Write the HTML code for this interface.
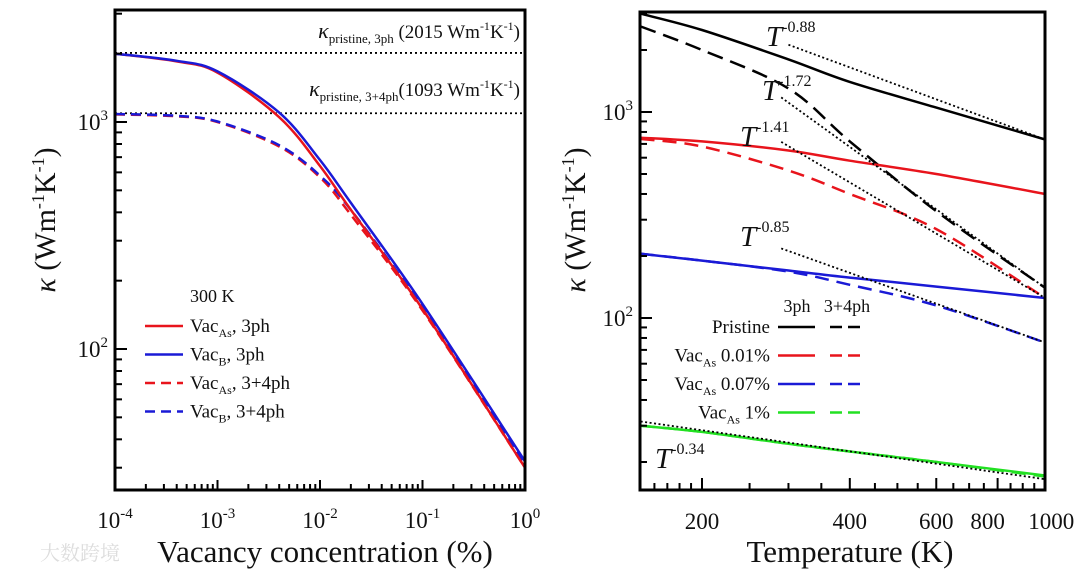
<!DOCTYPE html>
<html><head><meta charset="utf-8"><style>
body{margin:0;background:#fff}
svg{display:block;font-family:"Liberation Serif","Noto Serif CJK SC",serif}
</style></head><body>
<svg id="c" width="1080" height="576" viewBox="0 0 1080 576"></svg>
<script>
// Left panel data
const leftX = [1e-4, 4e-4, 1e-3, 4e-3, 1e-2, 2e-2, 1e-1, 1];
const vacAs3 = [2000, 1850, 1650, 1050, 640, 410, 150, 30];
const vacB3 = [2000, 1860, 1670, 1100, 680, 440, 158, 32];
const vacAs34 = [1080, 1060, 1000, 780, 570, 390, 148, 30];
const vacB34 = [1085, 1065, 1005, 790, 580, 410, 152, 31];
const leftRefs = [2015, 1093];
const leftXTicks = ["-4","-3","-2","-1","0"];
// Right panel data
const rightT = [150, 200, 300, 400, 600, 1000];
const pris3 = [3000, 2500, 1800, 1400, 1050, 735];
const pris34 = [2600, 2000, 1300, 720, 330, 140];
const v001_3 = [750, 720, 650, 580, 500, 400];
const v001_34 = [740, 680, 520, 400, 270, 125];
const v007_3 = [205, 190, 170, 157, 142, 125];
const v007_34 = [205, 190, 168, 145, 115, 76];
const v1_3 = [30, 28, 24.5, 22.5, 20, 17.2];
const v1_34 = [30, 28, 24.5, 22.5, 20, 17.0];
const fitExp = [-0.88, -1.72, -1.41, -0.85, -0.34];
const fitStart = [300, 290, 290, 290, 150];
const fitEnd = [735, 140, 125, 76, 16.5];
const rightXTicks = [200, 400, 600, 800, 1000];

const svg = document.getElementById('c');
const NS = 'http://www.w3.org/2000/svg';
function mk(tag, attrs, parent) {
  const e = document.createElementNS(NS, tag);
  for (const k in attrs) e.setAttribute(k, attrs[k]);
  (parent || svg).appendChild(e);
  return e;
}
const L = {x0:115, x1:525, y0:10, y1:490};
const lx = v => L.x0 + (Math.log10(v) + 4) / 4 * (L.x1 - L.x0);
const ly = v => 122 - (Math.log10(v) - 3) * 227;
const R = {x0:640, x1:1045, y0:12, y1:490};
const rx = v => 702 + (Math.log10(v) - Math.log10(200)) * 491;
const ry = v => 112 - (Math.log10(v) - 3) * 206;

function smooth(pts) {
  let d = 'M' + pts[0][0].toFixed(1) + ',' + pts[0][1].toFixed(1);
  for (let i = 0; i < pts.length - 1; i++) {
    const p0 = pts[i - 1] || pts[i], p1 = pts[i], p2 = pts[i + 1], p3 = pts[i + 2] || p2;
    const c1x = p1[0] + (p2[0] - p0[0]) / 6, c1y = p1[1] + (p2[1] - p0[1]) / 6;
    const c2x = p2[0] - (p3[0] - p1[0]) / 6, c2y = p2[1] - (p3[1] - p1[1]) / 6;
    d += 'C' + c1x.toFixed(1) + ',' + c1y.toFixed(1) + ' ' + c2x.toFixed(1) + ',' + c2y.toFixed(1) + ' ' + p2[0].toFixed(1) + ',' + p2[1].toFixed(1);
  }
  return d;
}
function poly(xs, ys, fx, fy, color, dash, name, clip) {
  const pts = xs.map((x, i) => [fx(x), fy(ys[i])]);
  const p = mk('path', {d: smooth(pts), fill: 'none', stroke: color, 'stroke-width': 2.5, 'stroke-dasharray': dash || 'none', 'clip-path': clip});
  
  
  return p;
}
const defs = mk('defs', {});
const c1 = mk('clipPath', {id: 'cl'}, defs); mk('rect', {x: L.x0, y: L.y0, width: L.x1 - L.x0, height: L.y1 - L.y0}, c1);
const c2 = mk('clipPath', {id: 'cr'}, defs); mk('rect', {x: R.x0, y: R.y0, width: R.x1 - R.x0, height: R.y1 - R.y0}, c2);

function text(x, y, html, size, anchor, name) {
  const t = mk('text', {x: x, y: y, 'font-size': size, 'text-anchor': anchor || 'start', fill: '#111'});
  t.innerHTML = html;
  
  
  return t;
}

// ---- Left panel ----
leftRefs.forEach((v, i) => {
  const l = mk('line', {x1: L.x0, x2: L.x1, y1: ly(v), y2: ly(v), stroke: '#000', 'stroke-width': 1.8, 'stroke-dasharray': '2,3'});
  
  
});
text(520, 38, '<tspan font-style="italic" font-size="22">κ</tspan><tspan font-size="13" dy="5">pristine, 3ph</tspan><tspan dy="-5"> (2015 Wm</tspan><tspan font-size="12" dy="-8">-1</tspan><tspan dy="8">K</tspan><tspan font-size="12" dy="-8">-1</tspan><tspan dy="8">)</tspan>', 19, 'end', 'label-pristine-3ph');
text(520, 96, '<tspan font-style="italic" font-size="22">κ</tspan><tspan font-size="13" dy="5">pristine, 3+4ph</tspan><tspan dy="-5">(1093 Wm</tspan><tspan font-size="12" dy="-8">-1</tspan><tspan dy="8">K</tspan><tspan font-size="12" dy="-8">-1</tspan><tspan dy="8">)</tspan>', 19, 'end', 'label-pristine-34ph');
poly(leftX, vacAs34, lx, ly, '#e8141c', '10,6', 'line-vacas-34ph', 'url(#cl)');
poly(leftX, vacB34, lx, ly, '#1a1ad6', '10,6', 'line-vacb-34ph', 'url(#cl)');
poly(leftX, vacAs3, lx, ly, '#e8141c', null, 'line-vacas-3ph', 'url(#cl)');
poly(leftX, vacB3, lx, ly, '#1a1ad6', null, 'line-vacb-3ph', 'url(#cl)');
for (let e = -4; e < 0; e++) for (let m = 1; m < 10; m++) {
  const x = lx(m * Math.pow(10, e)); const len = m === 1 ? 10 : 6;
  mk('line', {x1: x, x2: x, y1: L.y1, y2: L.y1 - len, stroke: '#000', 'stroke-width': 2});
}
leftXTicks.forEach((e, i) => text(lx(Math.pow(10, +e)), 528, '10<tspan font-size="15" dy="-10">' + e + '</tspan>', 23, 'middle', 'x-tick-left-' + i));
[20, 30, 40, 50, 60, 70, 80, 90, 100, 200, 300, 400, 500, 600, 700, 800, 900, 1000, 2000, 3000].forEach(v => {
  const y = ly(v); if (y < L.y0 || y > L.y1) return;
  const len = (v === 100 || v === 1000) ? 12 : 7;
  mk('line', {x1: L.x0, x2: L.x0 + len, y1: y, y2: y, stroke: '#000', 'stroke-width': 2});
});
text(108, ly(1000) + 8, '10<tspan font-size="15" dy="-10">3</tspan>', 23, 'end', 'y-tick-left-1000');
text(108, ly(100) + 8, '10<tspan font-size="15" dy="-10">2</tspan>', 23, 'end', 'y-tick-left-100');
const lf = mk('rect', {x: L.x0, y: L.y0, width: L.x1 - L.x0, height: L.y1 - L.y0, fill: 'none', stroke: '#000', 'stroke-width': 3});
 
const yt1 = text(0, 0, '<tspan font-style="italic">κ</tspan> (Wm<tspan font-size="18" dy="-11">-1</tspan><tspan dy="11">K</tspan><tspan font-size="18" dy="-11">-1</tspan><tspan dy="11">)</tspan>', 30, 'middle', 'y-axis-title-left');
yt1.setAttribute('transform', 'translate(55,220) rotate(-90)');
text(325, 562, 'Vacancy concentration (%)', 31, 'middle', 'x-axis-title-left');
text(190, 302, '300 K', 18, 'start', 'legend-title-300k');
const lleg = [['#e8141c', null, 'Vac<tspan font-size="12" dy="5">As</tspan><tspan dy="-5">, 3ph</tspan>'], ['#1a1ad6', null, 'Vac<tspan font-size="12" dy="5">B</tspan><tspan dy="-5">, 3ph</tspan>'], ['#e8141c', '10,6', 'Vac<tspan font-size="12" dy="5">As</tspan><tspan dy="-5">, 3+4ph</tspan>'], ['#1a1ad6', '10,6', 'Vac<tspan font-size="12" dy="5">B</tspan><tspan dy="-5">, 3+4ph</tspan>']];
lleg.forEach((r, i) => {
  const y = 326 + i * 28.5;
  mk('line', {x1: 145, x2: 183, y1: y, y2: y, stroke: r[0], 'stroke-width': 2.5, 'stroke-dasharray': r[1] || 'none'});
  text(190, y + 6, r[2], 19, 'start', 'legend-entry-left-' + i);
});

// ---- Right panel ----
poly(rightT, pris3, rx, ry, '#000', null, 'line-pristine-3ph', 'url(#cr)');
poly(rightT, pris34, rx, ry, '#000', '16,8', 'line-pristine-34ph', 'url(#cr)');
poly(rightT, v001_3, rx, ry, '#e8141c', null, 'line-vac001-3ph', 'url(#cr)');
poly(rightT, v001_34, rx, ry, '#e8141c', '14,8', 'line-vac001-34ph', 'url(#cr)');
poly(rightT, v007_3, rx, ry, '#1a1ad6', null, 'line-vac007-3ph', 'url(#cr)');
poly(rightT, v007_34, rx, ry, '#1a1ad6', '14,8', 'line-vac007-34ph', 'url(#cr)');
poly(rightT, v1_3, rx, ry, '#22e022', null, 'line-vac1-3ph', 'url(#cr)');
poly(rightT, v1_34, rx, ry, '#22e022', '14,8', 'line-vac1-34ph', 'url(#cr)');
fitExp.forEach((p, i) => {
  const t0 = fitStart[i], k0 = fitEnd[i] * Math.pow(t0 / 1000, p);
  const l = mk('line', {x1: rx(t0), y1: ry(k0), x2: rx(1000), y2: ry(fitEnd[i]), stroke: '#000', 'stroke-width': 1.8, 'stroke-dasharray': '2,2.5', 'clip-path': 'url(#cr)'});
  
  
});
const fitLabelPos = [[766, 46], [762, 100], [740, 146], [740, 246], [655, 468]];
fitExp.forEach((p, i) => text(fitLabelPos[i][0], fitLabelPos[i][1], '<tspan font-style="italic">T</tspan><tspan font-size="16" dy="-14">' + p.toFixed(2) + '</tspan>', 29, 'start', 'fit-label-' + i));
const minorT = [160, 170, 180, 190, 200, 250, 300, 350, 400, 450, 500, 550, 600, 650, 700, 750, 800, 850, 900, 950, 1000];
minorT.forEach(t => {
  const x = rx(t); const major = rightXTicks.includes(t);
  mk('line', {x1: x, x2: x, y1: R.y1, y2: R.y1 - (major ? 12 : 7), stroke: '#000', 'stroke-width': 2});
});
rightXTicks.forEach((t, i) => text(t === 800 ? rx(t) - 10 : (t === 1000 ? rx(t) + 6 : rx(t)), 529, String(t), 23, 'middle', 'x-tick-right-' + t));
[20, 30, 40, 50, 60, 70, 80, 90, 100, 200, 300, 400, 500, 600, 700, 800, 900, 1000, 2000, 3000].forEach(v => {
  const y = ry(v); if (y < R.y0 || y > R.y1) return;
  const len = (v === 100 || v === 1000) ? 12 : 7;
  mk('line', {x1: R.x0, x2: R.x0 + len, y1: y, y2: y, stroke: '#000', 'stroke-width': 2});
});
text(633, ry(1000) + 8, '10<tspan font-size="15" dy="-10">3</tspan>', 23, 'end', 'y-tick-right-1000');
text(633, ry(100) + 8, '10<tspan font-size="15" dy="-10">2</tspan>', 23, 'end', 'y-tick-right-100');
const rf = mk('rect', {x: R.x0, y: R.y0, width: R.x1 - R.x0, height: R.y1 - R.y0, fill: 'none', stroke: '#000', 'stroke-width': 3});
 
const yt2 = text(0, 0, '<tspan font-style="italic">κ</tspan> (Wm<tspan font-size="18" dy="-11">-1</tspan><tspan dy="11">K</tspan><tspan font-size="18" dy="-11">-1</tspan><tspan dy="11">)</tspan>', 30, 'middle', 'y-axis-title-right');
yt2.setAttribute('transform', 'translate(585,220) rotate(-90)');
text(850, 562, 'Temperature (K)', 31, 'middle', 'x-axis-title-right');
text(797, 312, '3ph', 18, 'middle', 'legend-header-3ph');
text(847, 312, '3+4ph', 18, 'middle', 'legend-header-34ph');
const rleg = [['#000', 'Pristine'], ['#e8141c', 'Vac<tspan font-size="12" dy="5">As</tspan><tspan dy="-5"> 0.01%</tspan>'], ['#1a1ad6', 'Vac<tspan font-size="12" dy="5">As</tspan><tspan dy="-5"> 0.07%</tspan>'], ['#22e022', 'Vac<tspan font-size="12" dy="5">As</tspan><tspan dy="-5"> 1%</tspan>']];
rleg.forEach((r, i) => {
  const y = 327 + i * 28.5;
  mk('line', {x1: 778, x2: 815, y1: y, y2: y, stroke: r[0], 'stroke-width': 2.5});
  mk('line', {x1: 830, x2: 864, y1: y, y2: y, stroke: r[0], 'stroke-width': 2.5, 'stroke-dasharray': '12,6'});
  text(770, y + 6, r[1], 19, 'end', 'legend-entry-right-' + i);
});
text(40, 560, '大数跨境', 20, 'start', 'watermark').setAttribute('fill', '#ddd');
</script>
</body></html>
